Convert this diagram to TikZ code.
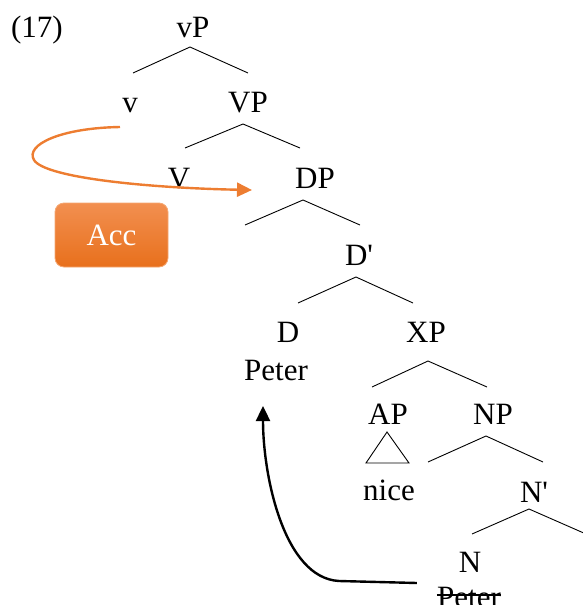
\documentclass[tikz,border=0pt]{standalone}
\usepackage{fontspec}
\setmainfont{Liberation Serif}[Ligatures=TeXOff]
\usetikzlibrary{arrows.meta, calc}
\definecolor{accorange}{HTML}{ED7D31}
\definecolor{acctop}{HTML}{F28F50}
\definecolor{accbot}{HTML}{E8701C}
\definecolor{accedge}{HTML}{F5A772}

\begin{document}
\begin{tikzpicture}[
		x=1pt, y=-1pt,
		font=\fontsize{31}{36}\selectfont,
		cat/.style={anchor=base, inner sep=0pt},
		branch/.style={line width=0.9pt},
		move/.style={-{Triangle[length=15pt, width=14pt]}, line width=2.4pt},
		case/.style={rounded corners=9pt, draw=accedge, line width=0.8pt,
			top color=acctop, bottom color=accbot, text=white,
			minimum width=113pt, minimum height=64pt, inner sep=0pt}
		]
		\useasboundingbox (0,0) rectangle (583,605);
		
		% Example number
		\node[cat] (ex) at (37,37) {(17)};
		
		% Tree labels
		\node[cat] (vP) at (193,37) {vP};
		\node[cat] (v) at (130,112) {v};
		\node[cat] (VP) at (248,112) {VP};
		\node[cat] (V) at (179,188) {V};
		\node[cat] (DP) at (315,188) {DP};
		\node[cat] (Dbar) at (359,265) {D'};
		\node[cat] (D) at (288,342) {D};
		\node[cat] (Peter) at (276,380) {Peter};
		\node[cat] (XP) at (426,342) {XP};
		\node[cat] (AP) at (388,424) {AP};
		\node[cat] (NP) at (493,424) {NP};
		\node[cat] (nice) at (389,500) {nice};
		\node[cat] (Nbar) at (534,502) {N'};
		\node[cat] (N) at (470,572) {N};
		\node[cat] (copy) at (469,607) {Peter};
		
		% Branches
		\draw[branch] ([shift={(-3,10)}]vP.base) +(-57,26) -- +(0,0) -- +(58,26);
		\draw[branch] ([shift={(-5,12)}]VP.base) +(-58,24) -- +(0,0) -- +(57,24);
		\draw[branch] ([shift={(-12,12)}]DP.base) +(-58,25) -- +(0,0) -- +(57,25);
		\draw[branch] ([shift={(-3,12)}]Dbar.base) +(-58,26) -- +(0,0) -- +(57,26);
		\draw[branch] ([shift={(2,19)}]XP.base) +(-56,26) -- +(0,0) -- +(59,26);
		\draw[branch] ([shift={(-7,12)}]NP.base) +(-58,26) -- +(0,0) -- +(57,26);
		\draw[branch] ([shift={(-5,7)}]Nbar.base) +(-57,25) -- +(0,0) -- +(57,25);
		
		% Triangle over nice
		\draw[branch] ([shift={(-1,8)}]AP.base) -- ++(-21,31) -- ++(43,0) -- cycle;
		
		% Deleted copy
		\draw[line width=1.6pt] ([shift={(0,-12)}]copy.base west) -- ([shift={(0,-12)}]copy.base east);
		
		% Head movement of N to D
		\draw[move] ([shift={(-20,-24)}]copy.base west) -- ++(-78,-2)
		.. controls +(-55,-3) and +(0,70) .. ([shift={(-13,26)}]Peter.base);
		
		% Case assignment
		\draw[move, accorange] ([shift={(-10,15)}]v.base)
		.. controls (60,128) and (25,145) .. (34,160)
		.. controls (45,178) and (150,188) .. ([shift={(-43,2)}]DP.base west);
		
		\node[case] (acc) at (111.5,235) {Acc};
		
	\end{tikzpicture}
\end{document}
